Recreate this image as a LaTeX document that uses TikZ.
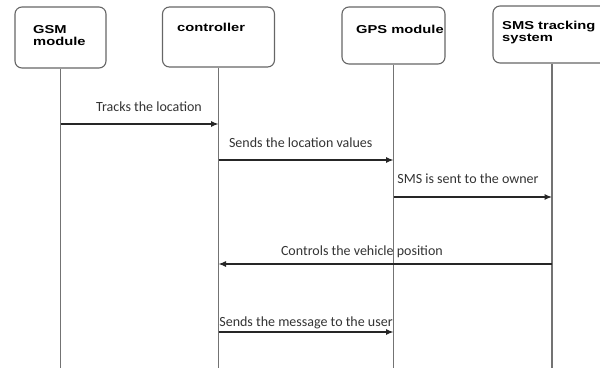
\documentclass[tikz,border=0pt]{standalone}
\usepackage{fontspec}
\setmainfont{Carlito}
\newfontfamily\boxfont[FakeStretch=1.28]{Liberation Sans}
\usetikzlibrary{arrows.meta}

\begin{document}
\begin{tikzpicture}[x=1pt, y=-1pt]
    % Define styles
    \tikzset{
        block/.style={draw=black!60, line width=1.1pt, rounded corners=7pt, inner sep=0pt},
        blocktext/.style={font=\boxfont\bfseries\fontsize{11.5}{12}\selectfont, anchor=base west, align=left, inner sep=0pt},
        lifeline/.style={black!55, line width=1.1pt},
        msg/.style={black!85, line width=1.1pt, -{Latex[length=7.5pt, width=6pt]}},
        msglabel/.style={font=\fontsize{14}{16}\selectfont, text=black!80, inner sep=0pt}
    }

    \useasboundingbox (0,0) rectangle (600,368);
    \clip (0,0) rectangle (600,368);

    % Draw the participants
    \node[block, minimum width=91pt, minimum height=61pt] (gsm) at (60.5,37.5) {};
    \node[block, minimum width=112pt, minimum height=60pt] (ctrl) at (218.5,37) {};
    \node[block, minimum width=103pt, minimum height=57pt] (gps) at (393.5,35.5) {};
    \node[block, minimum width=118pt, minimum height=57pt] (sms) at (552,34.5) {};

    % base sits on the last line of the text
    \node[blocktext] (gsmtext) at (33,45) {GSM\\module};
    \node[blocktext] (ctrltext) at (177,31) {controller};
    \node[blocktext] (gpstext) at (356,33) {GPS module};
    \node[blocktext] (smstext) at (502,41) {SMS tracking\\system};

    % Draw lifelines
    \foreach \n in {gsm,ctrl,gps,sms}
        \draw[lifeline] (\n.south) -- (\n.south |- 0,368);

    % Draw messages
    \draw[msg] (gsm.south |- 0,124) -- (ctrl.south |- 0,124)
        node[msglabel, pos=0.56, yshift=17pt] (m1) {Tracks the location};
    \draw[msg] (ctrl.south |- 0,160) -- (gps.south |- 0,160)
        node[msglabel, pos=0.47, yshift=17pt] (m2) {Sends the location values};
    \draw[msg] (gps.south |- 0,197) -- (sms.south |- 0,197)
        node[msglabel, pos=0.47, yshift=18pt] (m3) {SMS is sent to the owner};
    \draw[msg] (sms.south |- 0,264) -- (ctrl.south |- 0,264)
        node[msglabel, pos=0.57, yshift=12pt] (m4) {Controls the vehicle position};
    \draw[msg] (ctrl.south |- 0,332) -- (gps.south |- 0,332)
        node[msglabel, pos=0.5, yshift=9pt] (m5) {Sends the message to the user};

\end{tikzpicture}
\end{document}
